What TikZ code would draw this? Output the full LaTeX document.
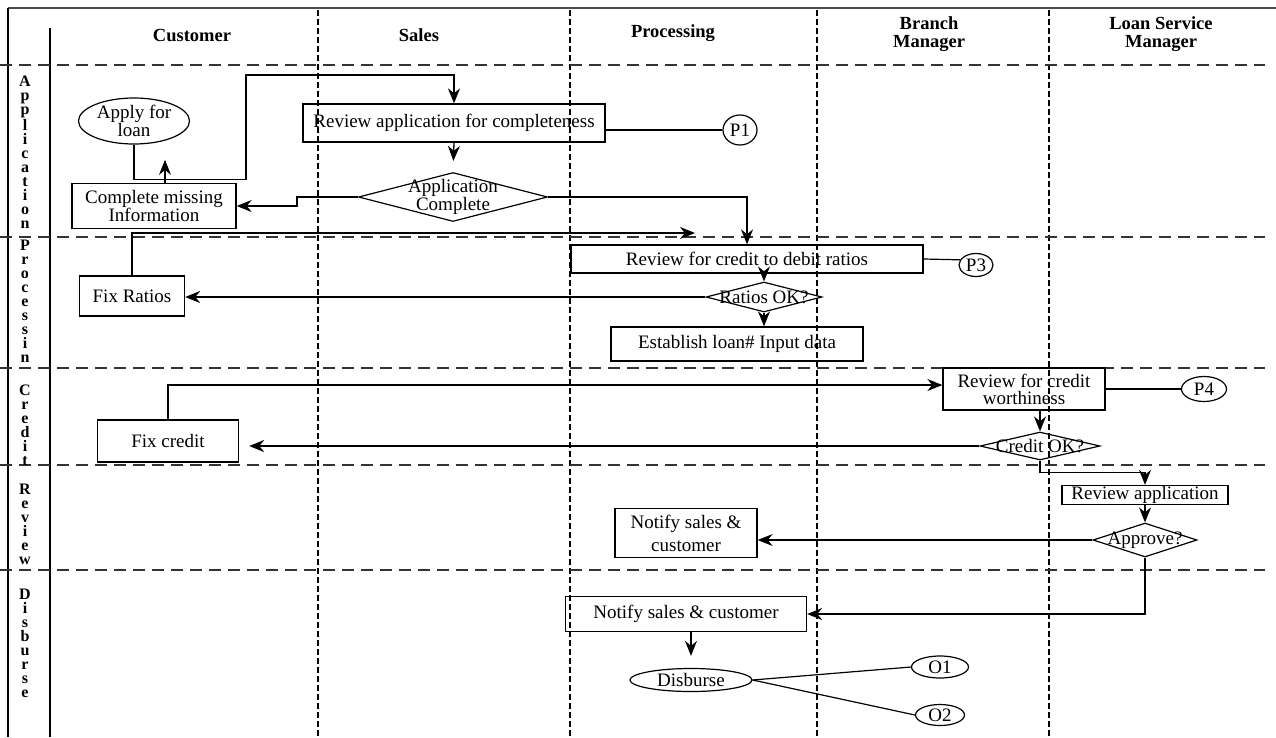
\documentclass[tikz,border=0pt]{standalone}
\usepackage{fontspec}
\setmainfont{Liberation Serif}
\usetikzlibrary{shapes.geometric,arrows.meta}
\newcommand{\flowfont}{\fontsize{19}{17}\selectfont}
\newcommand{\headfont}{\fontsize{18.5}{18}\selectfont\bfseries}
\newcommand{\lanefont}{\fontsize{16}{14}\selectfont\bfseries}
\tikzset{
  procbox/.style={draw, rectangle, line width=1.3pt, inner sep=1pt, align=center, font=\flowfont},
  terminal/.style={draw, ellipse, line width=1.2pt, inner sep=0pt, align=center, font=\flowfont},
  decision/.style={draw, diamond, line width=1.2pt, inner sep=0pt},
  dlabel/.style={align=center, font=\flowfont, inner sep=0pt},
  flow/.style={line width=1.3pt, -{Stealth[length=15pt,width=12pt]}},
  tie/.style={line width=1.2pt},
  lanediv/.style={dash pattern=on 12pt off 7pt, line width=2pt, black!80},
  coldiv/.style={dash pattern=on 6pt off 3pt, line width=1.2pt},
  colhead/.style={font=\headfont, align=center},
  lanelbl/.style={font=\lanefont, align=center, inner sep=0pt}
}
\begin{document}
\begin{tikzpicture}[x=1pt,y=-1pt]
\useasboundingbox (0,0) rectangle (1276,737);
\draw[line width=1.5pt, black!70] (8,8) -- (1276,8);
\draw[line width=1.2pt] (8,8) -- (8,737);
\draw[line width=1.2pt] (50,28) -- (50,737);
\foreach \x in {318,570,817,1049}
\draw[coldiv] (\x,10) -- (\x,737);
\foreach \y in {65,237,368,465,570}
\draw[lanediv] (0,\y) -- (1265,\y);
%%%%
\node[colhead] (hcust) at (192,35) {Customer};
\node[colhead] (hsales) at (419,35) {Sales};
\node[colhead] (hproc) at (673,33) {Processing};
\node[colhead] (hbranch) at (929,34) {Branch\\Manager};
\node[colhead] (hloan) at (1161,34) {Loan Service\\Manager};
\node[lanelbl] (lapp) at (25,152) {A\\p\\p\\l\\i\\c\\a\\t\\i\\o\\n};
\node[lanelbl] (lproc) at (25,301) {P\\r\\o\\c\\e\\s\\s\\i\\n};
\node[lanelbl] (lcred) at (25,425) {C\\r\\e\\d\\i\\t};
\node[lanelbl] (lrev) at (25,524) {R\\e\\v\\i\\e\\w};
\node[lanelbl] (ldisb) at (25,643) {D\\i\\s\\b\\u\\r\\s\\e};
%%%%
\node[terminal, minimum width=111pt, minimum height=46pt] (apply) at (134,121) {Apply for\\loan};
\node[procbox, minimum width=302pt, minimum height=38pt] (revcomp) at (454,123) {Review application for completeness};
\node[terminal, minimum width=34pt, minimum height=30pt] (p1) at (740,130) {P1};
\node[decision, minimum width=189pt, minimum height=49pt,
  label={[dlabel]center:Application\\Complete}] (appok) at (453,197) {};
\node[procbox, minimum width=164pt, minimum height=45pt] (missing) at (154,206) {Complete missing\\Information};
\node[procbox, minimum width=352pt, minimum height=28pt] (revratio) at (747,259) {Review for credit to debit ratios};
\node[terminal, minimum width=34pt, minimum height=23pt] (p3) at (976,265) {P3};
\node[decision, minimum width=116pt, minimum height=30pt,
  label={[dlabel]center:Ratios OK?}] (ratiook) at (764,297) {};
\node[procbox, minimum width=252pt, minimum height=34pt] (estab) at (737,344) {Establish loan\# Input data};
\node[procbox, minimum width=105pt, minimum height=40pt] (fixratio) at (132,296) {Fix Ratios};
\node[procbox, minimum width=162pt, minimum height=42pt] (revworth) at (1024,389) {Review for credit\\worthiness};
\node[terminal, minimum width=45pt, minimum height=25pt] (p4) at (1204,389) {P4};
\node[decision, minimum width=120pt, minimum height=28pt,
  label={[dlabel]center:Credit OK?}] (creditok) at (1040,446) {};
\node[procbox, minimum width=141pt, minimum height=42pt] (fixcredit) at (168,441) {Fix credit};
\node[procbox, minimum width=166pt, minimum height=19pt, inner sep=0pt] (revapp) at (1145,495) {Review application};
\node[decision, minimum width=104pt, minimum height=34pt,
  label={[dlabel]center:Approve?}] (approve) at (1145,540) {};
\node[procbox, minimum width=142pt, minimum height=49pt, font=\fontsize{19}{23}\selectfont] (notify1) at (686,533) {Notify sales \&\\customer};
\node[procbox, minimum width=241pt, minimum height=35pt] (notify2) at (686,614) {Notify sales \& customer};
\node[terminal, minimum width=122pt, minimum height=23pt] (disburse) at (691,680) {Disburse};
\node[terminal, minimum width=57pt, minimum height=22pt] (o1) at (940,667) {O1};
\node[terminal, minimum width=49pt, minimum height=21pt] (o2) at (940,715) {O2};
\coordinate (frtip) at (695,233);
%%%%
\draw[flow] (apply.south) -- ++(0,35) -| (246,75) -| (revcomp.north);
\draw[tie] (p1.west -| revcomp.east) -- (p1.west);
\draw[flow, shorten >=11pt] (revcomp.south) -- (appok.north);
\draw[flow] (appok.west) -- ++(-61,0) |- (missing.east);
\draw[flow] ([xshift=11pt]missing.north) -- ++(0,-23);
\draw[flow] (appok.east) -| (revratio.north);
\draw[flow] (fixratio.north) |- (frtip);
\draw[tie] (revratio.east) -- (p3.162);
\draw[flow] (revratio.south -| ratiook.north) -- (ratiook.north);
\draw[flow] (ratiook.south) -- (ratiook.south |- estab.north);
\draw[flow] (ratiook.west) -- (ratiook.west -| fixratio.east);
\draw[flow] (fixcredit.north) |- ([yshift=4pt]revworth.west);
\draw[tie] (revworth.east) -- (p4);
\draw[flow] (revworth.south -| creditok.north) -- (creditok.north);
\draw[flow, shorten >=10pt] (creditok.west) -- (creditok.west -| fixcredit.east);
\draw[flow] (creditok.south) -- ++(0,12) -| (revapp.north);
\draw[flow] (revapp.south) -- (approve.north);
\draw[flow] (approve.west) -- (approve.west -| notify1.east);
\draw[flow] (approve.south) |- (notify2.east);
\draw[flow, shorten >=12pt] (notify2.south -| disburse.north) -- (disburse.north);
\draw[tie] (disburse.east) -- (o1.west);
\draw[tie] (disburse.east) -- (o2.west);
\end{tikzpicture}
\end{document}
